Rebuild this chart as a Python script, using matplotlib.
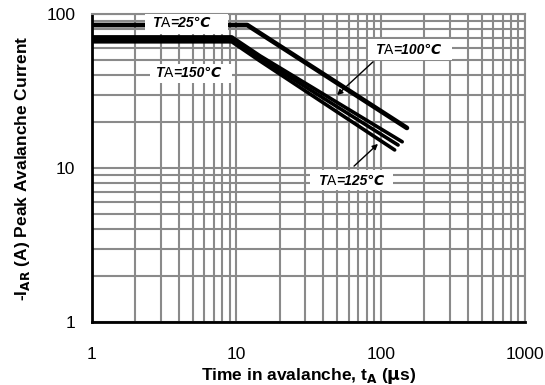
import matplotlib.pyplot as plt
from matplotlib.patches import Rectangle

# curve data (t in us, current in A)
t_25 = [1, 11.9, 152]
i_25 = [84.8, 84.8, 18.2]

t_100 = [1, 9.3, 14.6, 141]
i_100 = [71.0, 71.0, 53.5, 14.8]

t_125 = [1, 9.3, 14.6, 132]
i_125 = [68.5, 68.5, 51.5, 14.1]

t_150 = [1, 9.3, 14.6, 125]
i_150 = [66.0, 66.0, 49.5, 13.1]

x_ticks = [1, 10, 100, 1000]
y_ticks = [1, 10, 100]

plt.rcParams['font.family'] = ['Liberation Sans', 'DejaVu Sans']

fig = plt.figure(figsize=(5.45, 3.85), dpi=100)
ax = fig.add_axes([92 / 545, 1 - 322 / 385, (525 - 92) / 545, (322 - 14) / 385])

ax.set_xscale('log')
ax.set_yscale('log')
ax.set_xlim(1, 1000)
ax.set_ylim(1, 100)

ax.grid(True, which='both', color='#8a8a8a', linewidth=1.5)
ax.set_axisbelow(True)
ax.tick_params(which='both', length=0, labelsize=12.5)
ax.tick_params(axis='x', pad=18)
ax.tick_params(axis='y', pad=12)
ax.set_xticks(x_ticks)
ax.set_xticklabels([str(v) for v in x_ticks])
ax.set_yticks(y_ticks)
ax.set_yticklabels([str(v) for v in y_ticks])
ax.minorticks_on()
ax.xaxis.set_minor_formatter(plt.NullFormatter())
ax.yaxis.set_minor_formatter(plt.NullFormatter())

for s in ['left', 'bottom']:
    ax.spines[s].set_color('black')
    ax.spines[s].set_linewidth(2)
for s in ['top', 'right']:
    ax.spines[s].set_color('#8a8a8a')
    ax.spines[s].set_linewidth(1.5)

ax.plot(t_25, i_25, color='black', lw=3.4, solid_capstyle='round', zorder=4)
ax.plot(t_100, i_100, color='black', lw=2.6, solid_capstyle='round', zorder=4)
ax.plot(t_125, i_125, color='black', lw=2.6, solid_capstyle='round', zorder=4)
ax.plot(t_150, i_150, color='black', lw=2.6, solid_capstyle='round', zorder=4)


def to_ax(px, py):
    return ((px - 92) / (525 - 92), 1 - (py - 14) / (322 - 14))


def label(box, tx, ty, temp):
    x0, y0 = to_ax(box[0], box[3])
    x1, y1 = to_ax(box[2], box[1])
    ax.add_patch(Rectangle((x0, y0), x1 - x0, y1 - y0, transform=ax.transAxes,
                           fc='white', ec='none', zorder=5))
    x, y = to_ax(tx, ty)
    t1 = ax.text(x, y, 'T', fontsize=10, fontweight='bold', style='italic',
                 ha='left', va='center', transform=ax.transAxes, zorder=6)
    t2 = ax.annotate('A', xy=(1, 0), xycoords=t1, fontsize=10,
                     ha='left', va='bottom', zorder=6)
    ax.annotate('=' + temp + '℃', xy=(1, 0), xycoords=t2, fontsize=10,
                fontweight='bold', style='italic', ha='left', va='bottom', zorder=6)


label((145, 13, 228, 34), 152, 23, '25')
label((150, 64, 232, 83), 155, 73, '150')
label((368, 39, 452, 60), 375, 50, '100')
label((310, 170, 393, 190), 318, 181, '125')

ax.annotate('', xy=to_ax(335, 97), xytext=to_ax(375, 60), xycoords='axes fraction',
            arrowprops=dict(arrowstyle='-|>', color='black', lw=1.0, mutation_scale=8), zorder=6)
ax.annotate('', xy=to_ax(380, 142), xytext=to_ax(352, 168), xycoords='axes fraction',
            arrowprops=dict(arrowstyle='-|>', color='black', lw=1.0, mutation_scale=8), zorder=6)

ax.set_xlabel(r'Time in avalanche, t$_\mathbf{A}$ ($\mathbf{\mu}$s)', fontsize=12.5,
              fontweight='bold', labelpad=3)
ax.set_ylabel(r'-I$_\mathbf{AR}$ (A) Peak Avalanche Current', fontsize=12.5,
              fontweight='bold', labelpad=10)

fig.savefig('out.png', dpi=100)
